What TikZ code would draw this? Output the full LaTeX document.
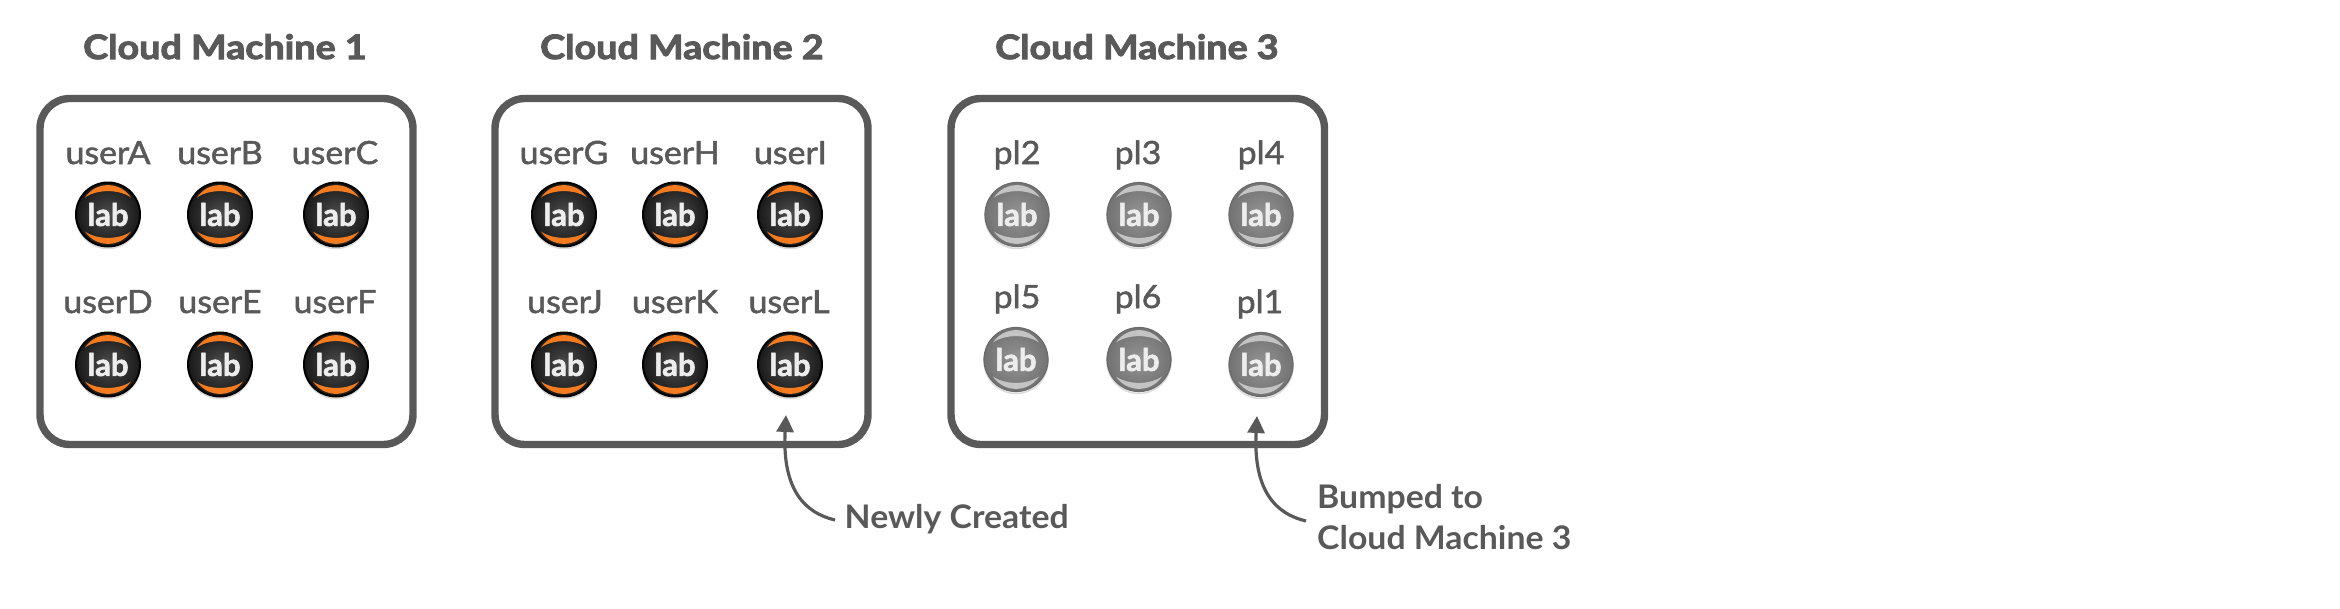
\documentclass[tikz,border=0pt]{standalone}
\usepackage{fontspec}
\setmainfont{Lato}
\newfontfamily\medfont{Lato}[FakeStretch=1.06,RawFeature={embolden=1.6}]
\newfontfamily\heavyfont{Lato Bold}[FakeStretch=1.125,RawFeature={embolden=3}]
\newfontfamily\notefont{Lato Bold}[FakeStretch=1.04]
\newfontfamily\labfont{Lato Bold}[RawFeature={embolden=2}]
\usetikzlibrary{arrows.meta,calc}
\definecolor{ink}{HTML}{595959}
\definecolor{lorange}{HTML}{F47B20}
\definecolor{gcres}{HTML}{C4C4C4}
\newcommand{\crescents}[1]{%
  \fill[#1] (-23,-17) .. controls (-12,-33.5) and (12,-33.5) .. (23,-17) .. controls (11,-25.5) and (-11,-25.5) .. (-23,-17) -- cycle;
  \fill[#1] (-23,17) .. controls (-12,33.5) and (12,33.5) .. (23,17) .. controls (11,25.5) and (-11,25.5) .. (-23,17) -- cycle;}
\newcommand{\labmark}[5]{%
  \node[#1] (#2) at (#3,#4) {lab};
  \begin{scope}[shift={(#2.center)}]\crescents{#5}\end{scope}}
\tikzset{
  x=1pt,y=-1pt,
  machine/.style={draw=ink,line width=7.4pt,rounded corners=30pt},
  title/.style={font=\fontsize{33.5}{36}\heavyfont,text=ink,anchor=base west,inner sep=0pt},
  ulabel/.style={font=\fontsize{32}{34}\medfont,text=ink,anchor=base,inner sep=0pt},
  note/.style={font=\fontsize{32.5}{40}\notefont,text=ink,anchor=base west,inner sep=0pt},
  iconbase/.style={circle,minimum size=64pt,inner sep=0pt,font=\fontsize{31}{33}\labfont,text=white!93!black},
  labicon/.style={iconbase,inner color=black!70,outer color=black!90,draw=black,line width=2pt,
    preaction={draw=black!14,line width=1.5pt,transform canvas={yshift=-2pt}}},
  greyicon/.style={iconbase,inner color=black!42,outer color=black!55,draw=black!58,line width=1.2pt,
    preaction={draw=black!14,line width=1.5pt,transform canvas={yshift=-2pt}}},
  callout/.style={draw=ink,line width=3.2pt,-{Triangle[length=17pt,width=17pt]}},
}
\begin{document}
\begin{tikzpicture}
\useasboundingbox (0,0) rectangle (2340,608);
\node[title] (t1) at (83,59) {Cloud Machine 1};
\node[title] (t2) at (540,59) {Cloud Machine 2};
\node[title] (t3) at (995,59) {Cloud Machine 3};
\draw[machine] (40,98.5) rectangle (413,444.5);
\draw[machine] (495,98.5) rectangle (868,444.5);
\draw[machine] (951,98.5) rectangle (1324.5,444.5);
% machine 1
\node[ulabel] (lA) at (108,164) {userA};
\node[ulabel] (lB) at (220,164) {userB};
\node[ulabel] (lC) at (335,164) {userC};
\node[ulabel] (lD) at (108,313) {userD};
\node[ulabel] (lE) at (220,313) {userE};
\node[ulabel] (lF) at (335,313) {userF};
\labmark{labicon}{iA}{108}{214.5}{lorange}
\labmark{labicon}{iB}{220}{214.5}{lorange}
\labmark{labicon}{iC}{336}{214.5}{lorange}
\labmark{labicon}{iD}{108}{364.5}{lorange}
\labmark{labicon}{iE}{220}{364.5}{lorange}
\labmark{labicon}{iF}{336}{364.5}{lorange}
% machine 2
\node[ulabel] (lG) at (564,164) {userG};
\node[ulabel] (lH) at (675,164) {userH};
\node[ulabel] (lI) at (790.5,164) {userI};
\node[ulabel] (lJ) at (565,313) {userJ};
\node[ulabel] (lK) at (675,313) {userK};
\node[ulabel] (lL) at (789,313) {userL};
\labmark{labicon}{iG}{564}{214.5}{lorange}
\labmark{labicon}{iH}{675}{214.5}{lorange}
\labmark{labicon}{iI}{790}{214.5}{lorange}
\labmark{labicon}{iJ}{564}{364.5}{lorange}
\labmark{labicon}{iK}{675}{364.5}{lorange}
\labmark{labicon}{iL}{790}{364.5}{lorange}
% machine 3
\node[ulabel] (p2) at (1017,164) {pl2};
\node[ulabel] (p3) at (1138,164) {pl3};
\node[ulabel] (p4) at (1261,164) {pl4};
\node[ulabel] (p5) at (1017,308) {pl5};
\node[ulabel] (p6) at (1138,308) {pl6};
\node[ulabel] (p1) at (1260,313) {pl1};
\labmark{greyicon}{g2}{1017}{214.5}{gcres}
\labmark{greyicon}{g3}{1139}{214.5}{gcres}
\labmark{greyicon}{g4}{1261}{214.5}{gcres}
\labmark{greyicon}{g5}{1016}{359.5}{gcres}
\labmark{greyicon}{g6}{1139}{359.5}{gcres}
\labmark{greyicon}{g1}{1261}{364.5}{gcres}
% callouts
\node[note] (n1) at (844.5,528) {Newly Created};
\node[note] (n2) at (1317,508) {Bumped to};
\node[note] (n3) at (1317,549) {Cloud Machine 3};
\coordinate (s1) at (835,520);
\coordinate (e1) at (786,415);
\coordinate (s2) at (1306,521);
\coordinate (e2) at (1257,416);
\draw[callout] (s1) .. controls (805,513) and (782,490) .. (e1);
\draw[callout] (s2) .. controls (1276,514) and (1253,491) .. (e2);
\end{tikzpicture}
\end{document}
